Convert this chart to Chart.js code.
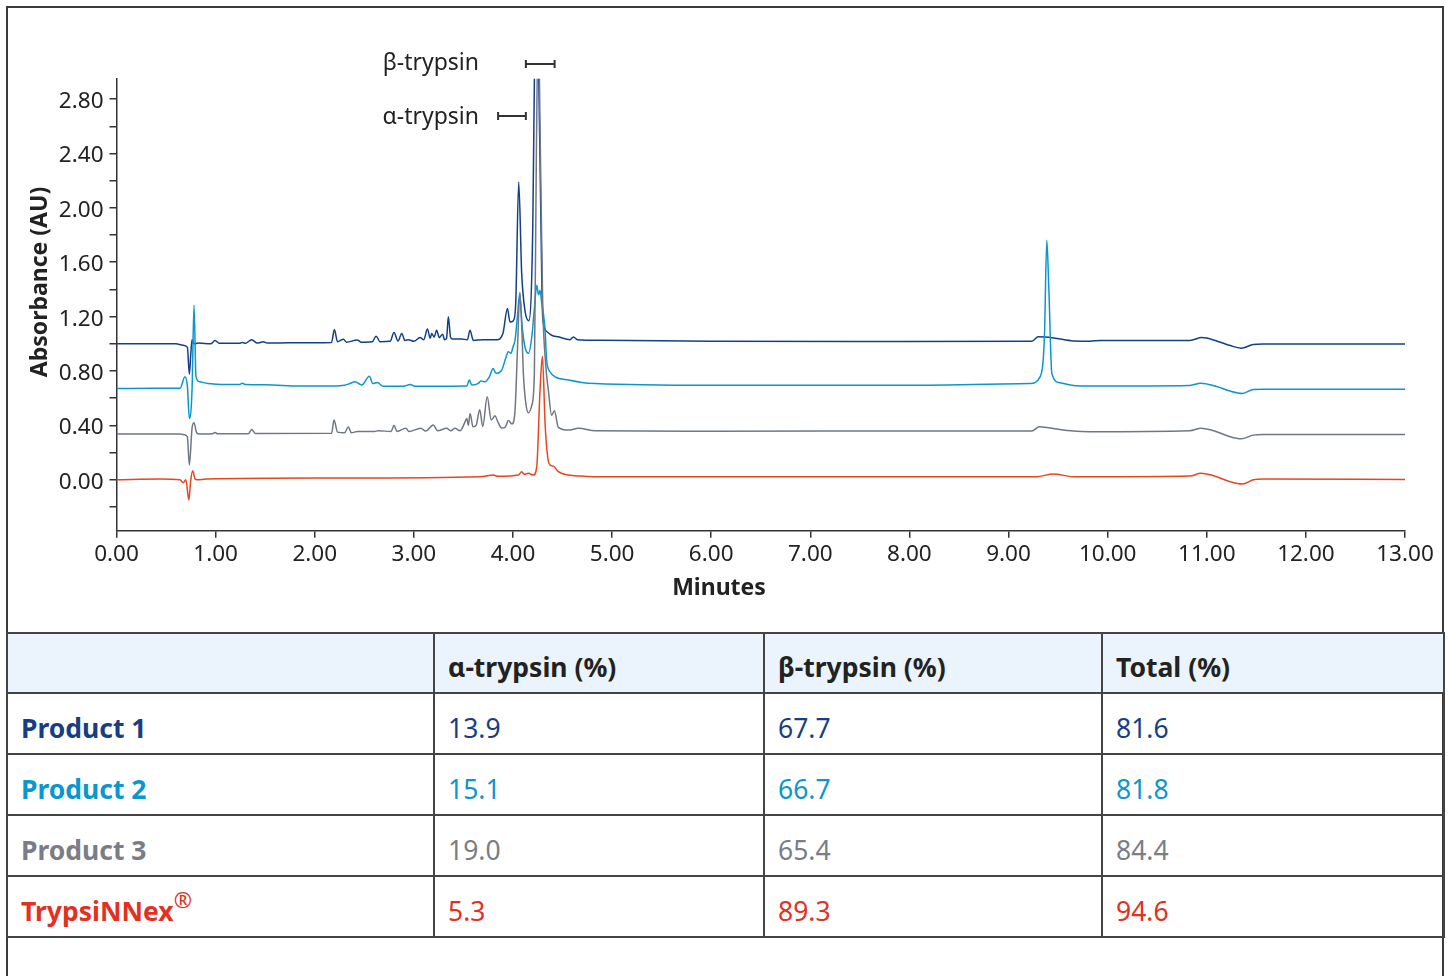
<!DOCTYPE html>
<html>
<head>
<meta charset="utf-8">
<script src="https://cdn.jsdelivr.net/npm/chart.js@4.4.1/dist/chart.umd.min.js"></script>
<style>
  html, body { margin: 0; padding: 0; background: #fff; }
  body { width: 1449px; height: 976px; position: relative; overflow: hidden; font-family: "Noto Sans", sans-serif; }
  #frame { position: absolute; left: 6px; top: 6px; width: 1434px; height: 1000px; border: 2px solid #3a3a3a; }
  #chartBox { position: absolute; left: 0; top: 0; width: 1449px; height: 632px; }
  #results { position: absolute; left: 6px; top: 632px; width: 1437px; border-collapse: collapse; table-layout: fixed; }
  #results td, #results th { border: 2px solid #444; padding: 8px 0 0 13px; text-align: left; font-size: 26.5px; line-height: 30px; }
  #results th { background: #ebf4fc; color: #222; font-weight: 700; }
  #results thead tr { height: 60px; }
  #results tbody tr { height: 61px; }
  #results td.name { font-weight: 700; }
  #results sup { font-size: 22px; line-height: 0; vertical-align: 13px; font-weight: 400; }
</style>
</head>
<body>
<div id="frame"></div>
<div id="chartBox"><canvas id="chromatogram" width="1449" height="632"></canvas></div>
<table id="results">
  <colgroup><col style="width:427px"><col style="width:330px"><col style="width:338px"><col style="width:342px"></colgroup>
  <thead><tr><th></th><th>α-trypsin (%)</th><th>β-trypsin (%)</th><th>Total (%)</th></tr></thead>
  <tbody id="resultRows"></tbody>
</table>
<script>
// Product 1 (navy)
const p1Time = [0, 0.30, 0.60, 0.67, 0.715, 0.735, 0.75, 0.762, 0.78, 0.83, 0.95, 0.994, 1.04, 1.24, 1.27, 1.30, 1.364, 1.42, 1.48, 1.52,
  1.734, 2.0, 2.17, 2.198, 2.23, 2.289, 2.32, 2.43, 2.47, 2.58, 2.619, 2.66, 2.76, 2.80, 2.84, 2.878, 2.91, 2.945, 3.0, 3.063, 3.10,
  3.137, 3.165, 3.18, 3.205, 3.23, 3.257, 3.29, 3.31, 3.33, 3.348, 3.37, 3.39, 3.48, 3.54, 3.567, 3.60, 3.70, 3.836, 3.90, 3.944,
  3.97, 4.004, 4.028, 4.058, 4.088, 4.122, 4.16, 4.20, 4.22, 4.235, 4.255, 4.28, 4.30, 4.34, 4.39, 4.458, 4.576, 4.61, 4.65, 4.88,
  6.0, 7.5, 9.235, 9.30, 9.453, 9.655, 9.823, 9.924, 10.83, 10.95, 11.10, 11.236, 11.347, 11.47, 11.57, 13.0];
const p1Abs = [1.00, 1.00, 1.00, 0.99, 0.975, 0.775, 0.93, 1.03, 1.00, 1.005, 1.00, 1.024, 1.003, 1.003, 1.01, 1.003, 1.03, 1.005, 1.015, 1.005,
  1.007, 1.008, 1.01, 1.105, 1.015, 1.034, 1.012, 1.027, 1.012, 1.015, 1.056, 1.015, 1.018, 1.083, 1.02, 1.076, 1.025, 1.03, 1.018, 1.046, 1.03,
  1.109, 1.04, 1.076, 1.05, 1.10, 1.045, 1.07, 1.03, 1.04, 1.198, 1.05, 1.035, 1.035, 1.03, 1.10, 1.025, 1.03, 1.03, 1.08, 1.26,
  1.16, 1.17, 1.30, 2.19, 1.52, 1.24, 1.17, 1.86, 3.2, 3.6, 3.2, 2.0, 1.20, 1.09, 1.063, 1.051, 1.03, 1.05, 1.03, 1.026,
  1.018, 1.016, 1.019, 1.051, 1.043, 1.021, 1.019, 1.024, 1.025, 1.046, 1.021, 0.987, 0.968, 0.995, 0.999, 0.999];

// Product 2 (light blue)
const p2Time = [0, 0.40, 0.641, 0.691, 0.715, 0.735, 0.762, 0.782, 0.802, 0.84, 0.92, 1.011, 1.24, 1.27, 1.30, 1.50, 1.852, 2.19, 2.30,
  2.356, 2.407, 2.474, 2.551, 2.585, 2.632, 2.686, 2.894, 2.962, 3.01, 3.534, 3.56, 3.584, 3.651, 3.675, 3.718, 3.762, 3.80, 3.83,
  3.887, 3.92, 3.954, 3.98, 4.0, 4.021, 4.045, 4.068, 4.09, 4.12, 4.156, 4.19, 4.215, 4.24, 4.258, 4.273, 4.29, 4.307, 4.324, 4.34,
  4.374, 4.425, 4.56, 4.694, 4.83, 6.0, 8.0, 9.218, 9.318, 9.362, 9.386, 9.406, 9.437, 9.52, 9.655, 9.82, 10.83, 10.94, 11.10,
  11.236, 11.36, 11.47, 11.57, 13.0];
const p2Abs = [0.671, 0.672, 0.673, 0.757, 0.688, 0.451, 0.659, 1.284, 0.757, 0.72, 0.708, 0.703, 0.70, 0.71, 0.70, 0.698, 0.69, 0.69, 0.695,
  0.708, 0.72, 0.696, 0.762, 0.708, 0.716, 0.688, 0.688, 0.70, 0.688, 0.69, 0.733, 0.696, 0.708, 0.727, 0.72, 0.757, 0.818, 0.782,
  0.806, 0.879, 0.941, 0.93, 0.977, 1.026, 1.20, 1.37, 1.15, 0.98, 0.93, 1.05, 1.25, 1.43, 1.36, 1.394, 1.30, 1.222, 1.10, 0.879,
  0.794, 0.757, 0.733, 0.716, 0.708, 0.695, 0.695, 0.708, 0.757, 1.05, 1.761, 1.418, 0.782, 0.713, 0.694, 0.69, 0.694, 0.71, 0.686,
  0.652, 0.635, 0.664, 0.666, 0.666];

// Product 3 (gray)
const p3Time = [0, 0.64, 0.69, 0.715, 0.735, 0.762, 0.782, 0.809, 0.84, 0.97, 0.994, 1.02, 1.33, 1.364, 1.40, 2.17, 2.195, 2.23, 2.30,
  2.339, 2.37, 2.43, 2.60, 2.64, 2.77, 2.80, 2.83, 2.92, 2.95, 3.07, 3.12, 3.197, 3.24, 3.332, 3.37, 3.416, 3.466, 3.51, 3.534,
  3.55, 3.567, 3.597, 3.628, 3.665, 3.695, 3.74, 3.781, 3.82, 3.845, 3.887, 3.92, 3.954, 3.99, 4.021, 4.045, 4.07, 4.09, 4.105,
  4.13, 4.156, 4.19, 4.216, 4.235, 4.255, 4.275, 4.30, 4.33, 4.357, 4.39, 4.418, 4.458, 4.56, 4.66, 4.83, 6.0, 8.4, 9.235, 9.31,
  9.42, 9.655, 9.82, 10.83, 10.94, 11.10, 11.236, 11.347, 11.47, 11.57, 13.0];
const p3Abs = [0.336, 0.336, 0.33, 0.316, 0.108, 0.378, 0.419, 0.346, 0.336, 0.338, 0.348, 0.338, 0.338, 0.37, 0.34, 0.341, 0.439, 0.35, 0.345,
  0.387, 0.345, 0.355, 0.355, 0.36, 0.355, 0.40, 0.355, 0.378, 0.355, 0.378, 0.358, 0.402, 0.36, 0.378, 0.36, 0.378, 0.36, 0.414, 0.451,
  0.40, 0.488, 0.39, 0.40, 0.515, 0.39, 0.61, 0.44, 0.47, 0.43, 0.38, 0.385, 0.435, 0.41, 0.51, 0.95, 1.38, 1.10, 0.782,
  0.561, 0.492, 0.549, 0.78, 2.3, 3.4, 2.5, 1.30, 0.85, 0.659, 0.475, 0.507, 0.385, 0.365, 0.378, 0.36, 0.357, 0.358, 0.358, 0.39,
  0.38, 0.358, 0.353, 0.36, 0.378, 0.353, 0.316, 0.301, 0.328, 0.333, 0.333];

// TrypsiNNex (red)
const p4Time = [0, 0.44, 0.64, 0.674, 0.70, 0.73, 0.748, 0.769, 0.79, 0.81, 0.91, 2.19, 3.67, 3.80, 3.85, 4.055, 4.088, 4.115, 4.156,
  4.206, 4.24, 4.273, 4.297, 4.324, 4.35, 4.374, 4.408, 4.458, 4.56, 4.69, 4.83, 6.0, 9.28, 9.453, 9.655, 9.82, 10.83, 10.94, 11.10,
  11.236, 11.36, 11.47, 11.57, 13.0];
const p4Abs = [0.0, 0.005, 0.0, -0.022, 0.0, -0.149, -0.01, 0.066, 0.01, 0.0, 0.005, 0.012, 0.022, 0.034, 0.025, 0.034, 0.059, 0.04, 0.047,
  0.034, 0.096, 0.659, 0.909, 0.414, 0.169, 0.108, 0.10, 0.059, 0.034, 0.027, 0.022, 0.022, 0.022, 0.042, 0.022, 0.022, 0.027, 0.047, 0.022,
  -0.015, -0.032, 0.0, 0.005, 0.002];

// y tick labels shown (minor ticks every 0.20 stay unlabelled)
const yLabelledTicks = [0.00, 0.40, 0.80, 1.20, 1.60, 2.00, 2.40, 2.80];

// retention windows marked above the plot (minutes)
const alphaRange = [3.85, 4.13];
const betaRange = [4.13, 4.42];

// table
const productNames = ['Product 1', 'Product 2', 'Product 3', 'TrypsiNNex'];
const alphaPct = [13.9, 15.1, 19.0, 5.3];
const betaPct = [67.7, 66.7, 65.4, 89.3];
const totalPct = [81.6, 81.8, 84.4, 94.6];

const lineColors = ['#133f88', '#0a96ce', '#6f7783', '#e8461f'];
const textColors = ['#173e84', '#0a96ce', '#7a7d87', '#e2311f'];

const rows = document.getElementById('resultRows');
productNames.forEach((name, i) => {
  const tr = document.createElement('tr');
  tr.style.color = textColors[i];
  const label = i === 3 ? name + '<sup>®</sup>' : name;
  tr.innerHTML = '<td class="name">' + label + '</td><td>' + alphaPct[i].toFixed(1) + '</td><td>' +
    betaPct[i].toFixed(1) + '</td><td>' + totalPct[i].toFixed(1) + '</td>';
  rows.appendChild(tr);
});

const toPoints = (t, a) => t.map((v, i) => ({ x: v, y: a[i] }));

const overlay = {
  id: 'overlay',
  afterDraw(chart) {
    const { ctx, scales: { x } } = chart;
    ctx.save();
    ctx.fillStyle = '#222';
    ctx.textBaseline = 'middle';

    // axis titles
    ctx.font = 'bold 23px "Noto Sans"';
    ctx.textAlign = 'center';
    ctx.fillText('Minutes', 719, 588);
    ctx.save();
    ctx.translate(40, 282);
    ctx.rotate(-Math.PI / 2);
    ctx.fillText('Absorbance (AU)', 0, 0);
    ctx.restore();

    // peak window labels and brackets
    ctx.font = '23px "Noto Sans"';
    ctx.textAlign = 'right';
    ctx.fillText('β-trypsin', 479, 63);
    ctx.fillText('α-trypsin', 479, 117);
    ctx.strokeStyle = '#333';
    ctx.lineWidth = 2;
    [[betaRange, 64], [alphaRange, 116]].forEach(([r, y]) => {
      const x0 = x.getPixelForValue(r[0]);
      const x1 = x.getPixelForValue(r[1]);
      ctx.beginPath();
      ctx.moveTo(x0, y); ctx.lineTo(x1, y);
      ctx.moveTo(x0, y - 4); ctx.lineTo(x0, y + 4);
      ctx.moveTo(x1, y - 4); ctx.lineTo(x1, y + 4);
      ctx.stroke();
    });
    ctx.restore();
  }
};

const series = [
  { label: 'Product 1', data: toPoints(p1Time, p1Abs), borderColor: lineColors[0], order: 4 },
  { label: 'Product 2', data: toPoints(p2Time, p2Abs), borderColor: lineColors[1], order: 3 },
  { label: 'Product 3', data: toPoints(p3Time, p3Abs), borderColor: lineColors[2], order: 2 },
  { label: 'TrypsiNNex', data: toPoints(p4Time, p4Abs), borderColor: lineColors[3], order: 1 },
];

new Chart(document.getElementById('chromatogram'), {
  type: 'line',
  data: {
    datasets: series.map(s => ({
      ...s,
      borderWidth: 1.5,
      pointRadius: 0,
      cubicInterpolationMode: 'monotone',
      fill: false,
    })),
  },
  options: {
    responsive: false,
    animation: false,
    events: [],
    layout: { padding: { top: 78.7, right: 44, bottom: 0, left: 0 } },
    plugins: { legend: { display: false }, tooltip: { enabled: false } },
    scales: {
      x: {
        type: 'linear',
        min: 0,
        max: 13,
        afterFit: (s) => { s.height = 101.3; },
        border: { display: true, color: '#333', width: 1.5 },
        grid: { drawOnChartArea: false, drawTicks: true, tickLength: 7, color: '#333', lineWidth: 1.5 },
        ticks: {
          stepSize: 1,
          autoSkip: false,
          maxRotation: 0,
          padding: 3,
          color: '#222',
          font: { family: 'Noto Sans', size: 22.5 },
          callback: (v) => v.toFixed(2),
        },
      },
      y: {
        min: -0.375,
        max: 2.95,
        afterFit: (s) => { s.width = 116.5; },
        border: { display: true, color: '#333', width: 1.5 },
        grid: { drawOnChartArea: false, drawTicks: true, tickLength: 7, color: '#333', lineWidth: 1.5 },
        ticks: {
          stepSize: 0.2,
          includeBounds: false,
          autoSkip: false,
          padding: 6,
          labelOffset: 2.5,
          color: '#222',
          font: { family: 'Noto Sans', size: 22.5 },
          callback: (v) => yLabelledTicks.some(t => Math.abs(t - v) < 1e-6) ? v.toFixed(2) : '',
        },
      },
    },
  },
  plugins: [overlay],
});
</script>
</body>
</html>
